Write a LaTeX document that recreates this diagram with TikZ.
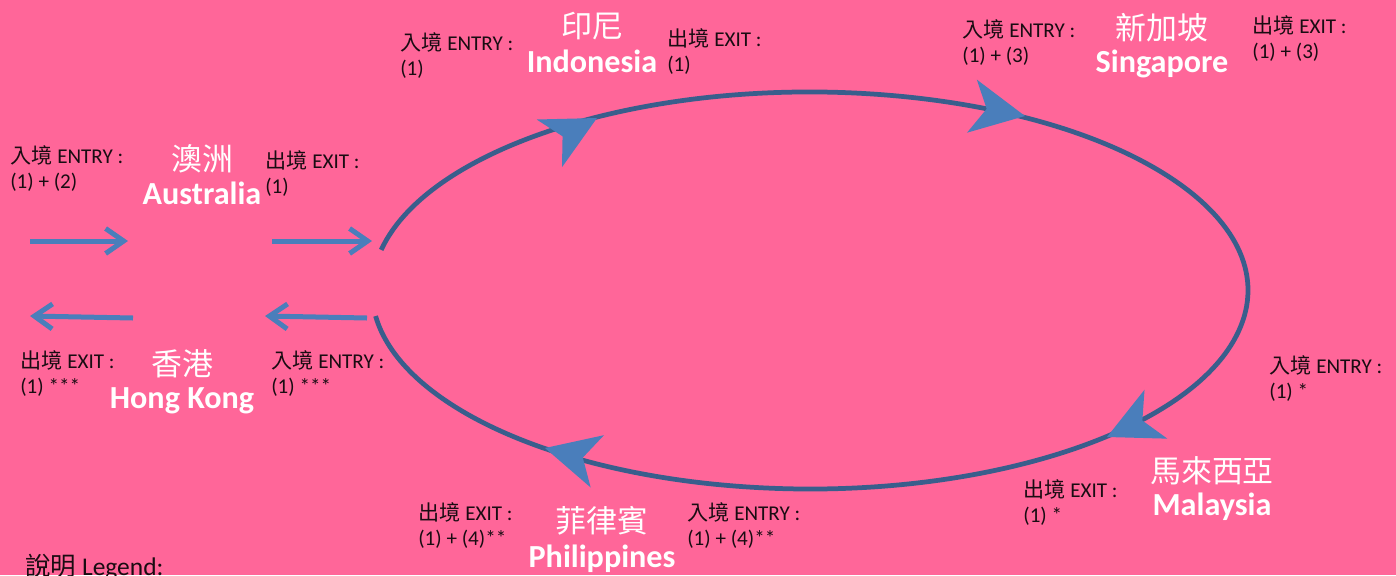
\documentclass[tikz,border=0pt]{standalone}
\usepackage{fontspec}
\setmainfont{Carlito}
\newfontfamily\cjk{Noto Sans CJK TC}
\usepackage{xcolor}
\usepackage{tikz}
\usetikzlibrary{arrows.meta}

\definecolor{bgpink}{RGB}{255,102,153}
\definecolor{ringblue}{RGB}{57,94,140}
\definecolor{headblue}{RGB}{74,126,187}
\definecolor{labelink}{RGB}{25,12,18}

\tikzset{
  flowhead/.pic={
    \fill[headblue] (0,0) -- (-54,27) -- (-39,0) -- (-54,-27) -- cycle;
  },
  % anchored at the baseline of the second line
  passlabel/.style={anchor=base west,
                    align=left,
                    inner sep=0pt,
                    text=labelink,
                    font=\fontsize{12}{14.2}\selectfont},
  countrycn/.style={anchor=base,
                    inner sep=0pt,
                    text=white,
                    font=\cjk\fontsize{17.6}{20}\selectfont},
  countryen/.style={anchor=base,
                    inner sep=0pt,
                    text=white,
                    font=\bfseries\fontsize{18.3}{20}\selectfont},
}

\begin{document}
\begin{tikzpicture}[x=0.02cm, y=-0.02cm,
    pass/.style={draw=headblue,
                 line width=0.1cm,
                 -{Straight Barb[length=0.36cm,width=0.5cm]}}]

    \useasboundingbox (0,0) rectangle (1396,575);
    \clip (0,0) rectangle (1396,575);
    \fill[bgpink] (0,0) rectangle (1396,575);

    % the loop
    \coordinate (loopstart) at (381.2,249.9);
    \draw[ringblue, line width=0.095cm] (loopstart)
        arc[start angle=-168.2, end angle=172.6, x radius=438, y radius=198.5];

    \pic[rotate=28]    at (597,118) {flowhead};
    \pic[rotate=-10.5] at (1025,116) {flowhead};
    \pic[rotate=205]   at (1107,437) {flowhead};
    \pic[rotate=165.7] at (545,448) {flowhead};

    % way in and way out
    \coordinate (ausintail) at (30,241);
    \coordinate (ausintip) at (128,241);
    \coordinate (ausouttail) at (272,241);
    \coordinate (ausouttip) at (372,241);
    \coordinate (hkintail) at (367,318);
    \coordinate (hkintip) at (265,316);
    \coordinate (hkouttail) at (133,318);
    \coordinate (hkouttip) at (30,316);

    \path
    (ausintail) edge [pass] (ausintip)
    (ausouttail) edge [pass] (ausouttip)
    (hkintail) edge [pass] (hkintip)
    (hkouttail) edge [pass] (hkouttip);

    % Australia
    \node[countrycn] (auscn) at (202,170) {澳洲};
    \node[countryen] (ausen) at (202,204) {Australia};
    \node[passlabel] (ausentry) at (10,188) {{\cjk 入境} ENTRY :\\(1) + (2)};
    \node[passlabel] (ausexit) at (265,193) {{\cjk 出境} EXIT :\\(1)};

    % Hong Kong
    \node[countrycn] (hkcn) at (182,375) {香港};
    \node[countryen] (hken) at (182,408) {Hong Kong};
    \node[passlabel] (hkexit) at (20,393) {{\cjk 出境} EXIT :\\(1) ***};
    \node[passlabel] (hkentry) at (271,393) {{\cjk 入境} ENTRY :\\(1) ***};

    % Indonesia
    \node[countrycn] (idcn) at (592,37) {印尼};
    \node[countryen] (iden) at (592,72) {Indonesia};
    \node[passlabel] (identry) at (400,75) {{\cjk 入境} ENTRY :\\(1)};
    \node[passlabel] (idexit) at (667,71) {{\cjk 出境} EXIT :\\(1)};

    % Singapore
    \node[countrycn] (sgcn) at (1162,39) {新加坡};
    \node[countryen] (sgen) at (1162,72) {Singapore};
    \node[passlabel] (sgentry) at (962,62) {{\cjk 入境} ENTRY :\\(1) + (3)};
    \node[passlabel] (sgexit) at (1252,58) {{\cjk 出境} EXIT :\\(1) + (3)};

    % Malaysia
    \node[countrycn] (mycn) at (1212,482) {馬來西亞};
    \node[countryen] (myen) at (1212,515) {Malaysia};
    \node[passlabel] (myentry) at (1269,398) {{\cjk 入境} ENTRY :\\(1) *};
    \node[passlabel] (myexit) at (1023,522) {{\cjk 出境} EXIT :\\(1) *};

    % Philippines
    \node[countrycn] (phcn) at (602,532) {菲律賓};
    \node[countryen] (phen) at (602,567) {Philippines};
    \node[passlabel] (phexit) at (418,545) {{\cjk 出境} EXIT :\\(1) + (4)**};
    \node[passlabel] (phentry) at (687,545) {{\cjk 入境} ENTRY :\\(1) + (4)**};

    \node[passlabel,
          font=\fontsize{14.5}{16}\selectfont
          ] (legend) at (25,575) {{\cjk 說明} Legend:};

\end{tikzpicture}
\end{document}
